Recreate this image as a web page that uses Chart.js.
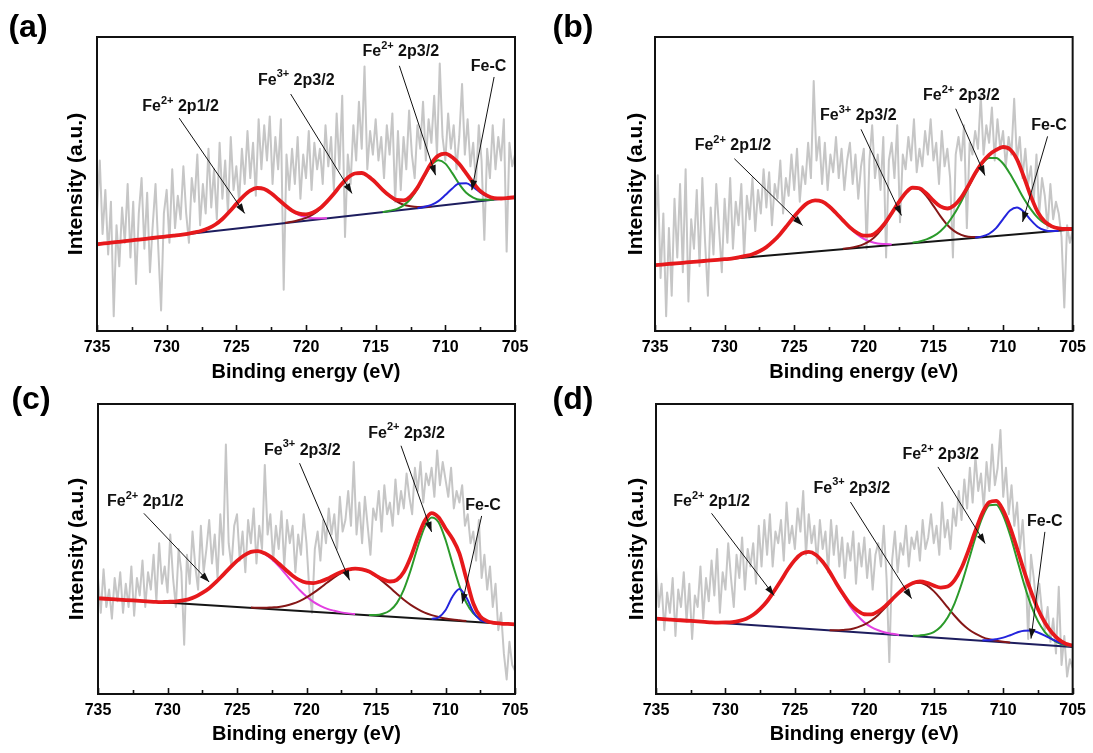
<!DOCTYPE html>
<html>
<head>
<meta charset="utf-8">
<title>Fe 2p XPS spectra</title>
<script src="https://cdn.jsdelivr.net/npm/chart.js@4.4.1/dist/chart.umd.min.js"></script>
<style>
  html, body { margin: 0; padding: 0; background: #fff; }
  body { width: 1093px; height: 753px; position: relative; overflow: hidden; }
  canvas { position: absolute; }
</style>
</head>
<body>
<canvas id="panelA" width="545" height="385" style="left:0px;top:0px"></canvas>
<canvas id="panelB" width="548" height="385" style="left:545px;top:0px"></canvas>
<canvas id="panelC" width="545" height="368" style="left:0px;top:385px"></canvas>
<canvas id="panelD" width="548" height="368" style="left:545px;top:385px"></canvas>
<script>
// ---- energy axis ----
const E_HIGH = 735, E_LOW = 705;
const RAW_STEP = 0.2;   // spacing of the measured spectrum (eV)
const FIT_STEP = 0.5;   // spacing of the fitted component samples (eV)
const xTicks = [735, 730, 725, 720, 715, 710, 705];

// ---- measured spectra, 735 -> 705 eV, intensity in % of frame height ----
const rawA = [
  40, 58, 33, 48, 26,  44, 5, 36, 22, 42,  30, 50, 25, 44, 16,  40, 52, 28, 47, 20,
  36, 50, 28, 7, 40,   48, 30, 55, 35, 46, 38, 56, 40, 30, 52,  44, 60, 36, 50, 40,
  62, 42, 55, 38, 64,  45, 58, 40, 66, 48, 56, 44, 62, 50, 68,  52, 64, 46, 72, 55,
  70, 58, 73, 50, 66,  55, 72, 14, 60, 48, 62, 50, 66, 45, 60,  52, 68, 48, 64, 55,
  62, 50, 70, 56, 66,  48, 74, 55, 80, 32, 60, 50, 70, 58, 78,  62, 90, 55, 68, 60,
  72, 58, 66, 52, 70,  60, 74, 44, 68, 48, 66, 55, 75, 60, 52,  70, 62, 78, 58, 72,
  64, 80, 60, 91, 66,  58, 74, 62, 70, 55, 66, 84, 60, 72, 56,  64, 50, 70, 58, 31,
  62, 52, 70, 55, 66,  58, 72, 27, 64, 56, 60
];
const rawB = [
  30, 53, 18, 40, 5,   35, 12, 45, 25, 50,  20, 55, 10, 38, 28,  48, 22, 52, 30, 12,
  42, 26, 50, 35, 20,  45, 30, 52, 28, 44,  36, 50, 25, 46, 38,  52, 34, 48, 40, 55,
  42, 54, 36, 50, 45,  58, 40, 52, 46, 60,  48, 62, 44, 56, 50,  64, 52, 85, 58, 66,
  50, 64, 48, 60, 54,  66, 52, 62, 48, 58,  64, 50, 60, 45, 56,  62, 28, 58, 70, 52,
  60, 48, 66, 25, 58,  64, 52, 70, 37, 60,  55, 66, 58, 72, 54,  62, 56, 68, 60, 72,
  58, 64, 50, 68, 56,  62, 52, 25, 60, 66,  58, 70, 35, 64, 60,  68, 62, 80, 60, 70,
  64, 76, 58, 72, 62,  68, 56, 66, 60, 79,  58, 66, 52, 62, 50,  56, 44, 60, 40, 52,
  46, 35, 50, 38, 44,  40, 32, 8, 36, 30, 34
];
const rawC = [
  40, 28, 43, 30, 36,  26, 40, 32, 42, 28,  38, 30, 44, 27, 40,  34, 46, 30, 42, 36,
  48, 32, 52, 38, 44,  35, 55, 40, 30, 50,  42, 17, 48, 38, 56,  44, 36, 58, 42, 50,
  60, 45, 55, 40, 62,  48, 86, 52, 44, 58,  62, 46, 56, 42, 60,  52, 64, 45, 58, 50,
  79, 55, 62, 46, 58,  50, 63, 44, 60, 52,  58, 42, 55, 48, 62,  52, 36, 28, 50, 56,
  46, 60, 52, 64, 55,  62, 50, 68, 56, 60,  70, 58, 80, 55, 66,  52, 68, 58, 48, 64,
  60, 70, 56, 72, 62,  66, 58, 74, 62, 70,  64, 76, 68, 62, 78,  70, 80, 66, 76, 72,
  78, 68, 84, 72, 80,  74, 68, 78, 64, 70,  66, 72, 58, 62, 52,  56, 46, 60, 40, 48,
  36, 44, 30, 38, 22,  28, 14, 5, 18, 10, 8
];
const rawD = [
  44, 30, 38, 22, 35,  28, 40, 20, 36, 30,  42, 25, 38, 19, 34,  30, 44, 26, 40, 32,
  46, 34, 50, 28, 42,  36, 52, 40, 30, 48,  40, 54, 36, 50, 44,  52, 38, 58, 44, 60,
  48, 62, 44, 56, 52,  60, 46, 66, 52, 58,  50, 64, 56, 70, 48,  62, 52, 58, 45, 60,
  50, 56, 42, 60, 48,  58, 44, 54, 40, 52,  46, 56, 38, 52, 44,  54, 40, 50, 36, 48,
  52, 44, 58, 40, 11,  46, 56, 42, 52, 48,  58, 44, 54, 50, 56,  46, 60, 50, 54, 62,
  52, 58, 48, 66, 54,  60, 50, 64, 58, 70,  60, 74, 64, 78, 66,  82, 70, 76, 64, 80,
  70, 86, 72, 78, 91,  68, 78, 62, 72, 58,  66, 50, 60, 44, 19,  48, 40, 30, 38, 28,
  22, 30, 18, 26, 14,  37, 10, 20, 6, 12, 9
];

// ---- linear backgrounds: value at 735 eV, value at 705 eV ----
const baseA = [29.5, 45.5];
const baseB = [22.4, 34.5];
const baseC = [33.0, 24.0];
const baseD = [26.0, 16.2];

// ---- fitted components (height above background), sampled every 0.5 eV from the start energy downward ----
// order in each start list: Fe2+ 2p1/2, Fe3+ 2p3/2, Fe2+ 2p3/2, Fe-C
const startA = [728.5, 721.5, 714.5, 712.0];
const fe2p12A = [0.1, 0.3, 0.6, 1.2, 2.2, 3.8, 6.0, 8.4, 10.7, 12.4, 13.0, 12.4, 10.7, 8.4, 6.0, 3.8, 2.2, 1.2, 0.6, 0.3, 0.1];
const fe3p32A = [0.1, 0.2, 0.5, 1.0, 1.9, 3.4, 5.6, 8.1, 10.8, 13.0, 14.2, 14.1, 12.6, 10.3, 7.6, 5.1, 3.1, 1.7, 0.9, 0.4, 0.2, 0.1];
const fe2p32A = [0.0, 0.2, 0.5, 1.5, 3.4, 6.6, 10.6, 14.1, 15.5, 14.1, 10.6, 6.6, 3.4, 1.5, 0.5, 0.2, 0.0];
const feCA    = [0.0, 0.2, 0.6, 1.6, 3.4, 5.4, 6.8, 6.6, 5.0, 3.0, 1.4, 0.5, 0.1, 0.0];

const startB = [729.0, 721.5, 716.5, 712.0];
const fe2p12B = [0.2, 0.5, 0.9, 1.7, 2.9, 4.7, 7.0, 9.7, 12.5, 15.0, 16.8, 17.4, 16.8, 15.0, 12.5, 9.7, 7.0, 4.7, 2.9, 1.7, 0.9, 0.5, 0.2];
const fe3p32B = [0.1, 0.2, 0.5, 1.1, 2.2, 4.2, 7.0, 10.6, 14.3, 17.3, 18.7, 18.1, 15.6, 12.1, 8.4, 5.2, 2.9, 1.4, 0.6, 0.3, 0.1];
const fe2p32B = [0.2, 0.4, 0.9, 1.8, 3.3, 5.6, 8.8, 12.8, 17.3, 21.6, 25.0, 26.8, 26.6, 24.5, 20.8, 16.4, 11.9, 8.1, 5.0, 2.9, 1.6, 0.8, 0.4, 0.2];
const feCB    = [0.1, 0.3, 1.0, 2.7, 5.6, 8.3, 9.1, 7.4, 4.4, 1.9, 0.6, 0.1, 0.0];

const startC = [730.0, 724.0, 715.5, 711.0];
const fe2p12C = [0.3, 0.5, 1.0, 1.6, 2.6, 4.1, 5.9, 8.2, 10.8, 13.4, 15.9, 17.9, 19.2, 19.5, 18.8, 17.2, 15.0, 12.4, 9.7, 7.2, 5.1, 3.4, 2.2, 1.3, 0.8, 0.4, 0.2, 0.1];
const fe3p32C = [0.1, 0.2, 0.3, 0.6, 0.9, 1.5, 2.3, 3.4, 4.8, 6.5, 8.4, 10.4, 12.3, 13.9, 15.1, 15.7, 15.7, 15.0, 13.6, 11.9, 10.0, 8.0, 6.1, 4.5, 3.2, 2.1, 1.4, 0.9, 0.5, 0.3, 0.2, 0.1];
const fe2p32C = [0.1, 0.2, 0.8, 2.1, 4.8, 9.6, 16.5, 24.6, 31.6, 35.1, 33.6, 27.7, 19.7, 12.1, 6.4, 2.9, 1.2, 0.4, 0.1];
const feCC    = [0.1, 0.8, 3.4, 8.2, 11.0, 8.2, 3.4, 0.8, 0.1];

const startD = [730.5, 722.5, 716.5, 711.5];
const fe2p12D = [0.1, 0.3, 0.6, 1.2, 2.1, 3.6, 5.8, 8.6, 12.2, 16.1, 20.1, 23.5, 25.8, 26.6, 25.8, 23.5, 20.1, 16.1, 12.2, 8.6, 5.8, 3.6, 2.1, 1.2, 0.6, 0.3, 0.1];
const fe3p32D = [0.1, 0.2, 0.5, 0.9, 1.7, 2.8, 4.4, 6.5, 9.1, 11.9, 14.6, 16.8, 18.2, 18.6, 17.8, 16.0, 13.5, 10.7, 8.0, 5.6, 3.7, 2.3, 1.3, 0.7, 0.4, 0.2, 0.1];
const fe2p32D = [0.1, 0.4, 0.9, 1.9, 3.9, 7.2, 12.3, 19.1, 27.2, 35.5, 42.6, 46.9, 47.3, 43.7, 37.1, 28.9, 20.6, 13.5, 8.1, 4.5, 2.3, 1.0, 0.4, 0.2];
const feCD    = [0.2, 0.4, 0.9, 1.6, 2.6, 3.7, 4.5, 4.7, 4.2, 3.3, 2.2, 1.3, 0.6, 0.3];

// ---- peak labels ----
const LABEL_FE2_2P12 = ['Fe', '2+', ' 2p1/2'];
const LABEL_FE3_2P32 = ['Fe', '3+', ' 2p3/2'];
const LABEL_FE2_2P32 = ['Fe', '2+', ' 2p3/2'];
const LABEL_FEC = ['Fe-C'];

// ---- styling ----
const FONT = '"Liberation Sans", Arial, Helvetica, sans-serif';
const COLORS = {
  raw: '#c6c6c6',
  envelope: '#e6191c',
  fe2p12: '#e23fe0',
  fe3p32: '#861717',
  fe2p32: '#2b9a2b',
  feC: '#2424dc'
};

// Annotation placement in data coordinates [energy, intensity]
const PANELS = [
  {
    id: 'panelA', tag: '(a)', tagAt: [28, 28],
    raw: rawA, base: baseA, starts: startA, comps: [fe2p12A, fe3p32A, fe2p32A, feCA],
    baseColor: '#1d1d5e',
    box: { left: 97, top: 37, right: 30, bottom: 54 }, yTitlePad: 64, xTitlePad: 1,
    notes: [
      { text: LABEL_FE2_2P12, at: [729.0, 76.2], from: [729.1, 72.4], to: [724.4, 40.0] },
      { text: LABEL_FE3_2P32, at: [720.7, 85.3], from: [721.1, 80.6], to: [716.7, 46.8] },
      { text: LABEL_FE2_2P32, at: [713.2, 94.9], from: [713.3, 90.2], to: [710.7, 53.0] },
      { text: LABEL_FEC,      at: [706.9, 89.8], from: [706.5, 86.4], to: [708.1, 47.9] }
    ]
  },
  {
    id: 'panelB', tag: '(b)', tagAt: [28, 28],
    raw: rawB, base: baseB, starts: startB, comps: [fe2p12B, fe3p32B, fe2p32B, feCB],
    baseColor: '#151515',
    box: { left: 110, top: 37, right: 18, bottom: 54 }, yTitlePad: 79, xTitlePad: 1,
    notes: [
      { text: LABEL_FE2_2P12, at: [729.4, 63.1], from: [729.3, 58.6], to: [724.4, 35.9] },
      { text: LABEL_FE3_2P32, at: [720.4, 73.2], from: [720.2, 68.6], to: [717.3, 39.3] },
      { text: LABEL_FE2_2P32, at: [713.0, 80.0], from: [713.4, 75.6], to: [711.3, 52.9] },
      { text: LABEL_FEC,      at: [706.7, 69.8], from: [706.8, 66.2], to: [708.6, 37.1] }
    ]
  },
  {
    id: 'panelC', tag: '(c)', tagAt: [31, 15],
    raw: rawC, base: baseC, starts: startC, comps: [fe2p12C, fe3p32C, fe2p32C, feCC],
    baseColor: '#151515',
    box: { left: 98, top: 19, right: 30, bottom: 59 }, yTitlePad: 65, xTitlePad: 6.5,
    notes: [
      { text: LABEL_FE2_2P12, at: [731.6, 66.3], from: [731.7, 62.3], to: [727.0, 38.6] },
      { text: LABEL_FE3_2P32, at: [720.3, 84.1], from: [720.5, 79.6], to: [716.9, 39.2] },
      { text: LABEL_FE2_2P32, at: [712.8, 89.9], from: [713.2, 85.6], to: [711.0, 55.9] },
      { text: LABEL_FEC,      at: [707.3, 65.1], from: [707.4, 61.4], to: [708.8, 31.2] }
    ]
  },
  {
    id: 'panelD', tag: '(d)', tagAt: [28, 15],
    raw: rawD, base: baseD, starts: startD, comps: [fe2p12D, fe3p32D, fe2p32D, feCD],
    baseColor: '#1d1d5e',
    box: { left: 111, top: 19, right: 18, bottom: 59 }, yTitlePad: 80, xTitlePad: 6.5,
    notes: [
      { text: LABEL_FE2_2P12, at: [731.0, 66.3], from: [731.0, 62.3], to: [726.5, 34.0] },
      { text: LABEL_FE3_2P32, at: [720.9, 70.9], from: [721.0, 66.2], to: [716.6, 32.9] },
      { text: LABEL_FE2_2P32, at: [714.5, 82.4], from: [714.7, 78.3], to: [711.3, 51.9] },
      { text: LABEL_FEC,      at: [707.0, 59.3], from: [707.0, 55.9], to: [708.0, 19.1] }
    ]
  }
];

// ---- helpers ----
function backgroundAt(base, e) {
  return base[0] + (base[1] - base[0]) * (E_HIGH - e) / (E_HIGH - E_LOW);
}
function rawPoints(values) {
  return values.map((v, i) => ({ x: +(E_HIGH - RAW_STEP * i).toFixed(1), y: v }));
}
function componentPoints(values, start, base) {
  return values.map((v, j) => {
    const e = start - FIT_STEP * j;
    return { x: e, y: backgroundAt(base, e) + v };
  });
}
function envelopePoints(comps, starts, base) {
  const pts = [];
  const n = Math.round((E_HIGH - E_LOW) / FIT_STEP);
  for (let i = 0; i <= n; i++) {
    const e = E_HIGH - FIT_STEP * i;
    let sum = backgroundAt(base, e);
    comps.forEach((vals, k) => {
      const j = Math.round((starts[k] - e) / FIT_STEP);
      if (j >= 0 && j < vals.length) sum += vals[j];
    });
    pts.push({ x: e, y: sum });
  }
  return pts;
}

function drawArrow(ctx, x1, y1, x2, y2) {
  ctx.beginPath();
  ctx.moveTo(x1, y1);
  ctx.lineTo(x2, y2);
  ctx.stroke();
  const ang = Math.atan2(y2 - y1, x2 - x1);
  const L = 10, W = 3.4;
  const bx = x2 - L * Math.cos(ang), by = y2 - L * Math.sin(ang);
  ctx.beginPath();
  ctx.moveTo(x2, y2);
  ctx.lineTo(bx + W * Math.sin(ang), by - W * Math.cos(ang));
  ctx.lineTo(bx - W * Math.sin(ang), by + W * Math.cos(ang));
  ctx.closePath();
  ctx.fill();
}

function drawLabel(ctx, parts, cx, cy) {
  const mainFont = 'bold 16px ' + FONT;
  const supFont = 'bold 11px ' + FONT;
  let total = 0;
  const widths = parts.map((p, i) => {
    ctx.font = (i % 2 === 1) ? supFont : mainFont;
    const w = ctx.measureText(p).width;
    total += w;
    return w;
  });
  let x = cx - total / 2;
  ctx.textAlign = 'left';
  ctx.textBaseline = 'middle';
  parts.forEach((p, i) => {
    const sup = (i % 2 === 1);
    ctx.font = sup ? supFont : mainFont;
    ctx.fillText(p, x, sup ? cy - 6 : cy);
    x += widths[i];
  });
}

function makeDecor(panel) {
  return {
    id: 'xpsDecor_' + panel.id,
    afterDatasetsDraw(chart) {
      const { ctx, chartArea: a, scales } = chart;
      const xs = scales.x, ys = scales.y;
      ctx.save();
      // frame
      ctx.strokeStyle = '#111';
      ctx.lineWidth = 2;
      ctx.strokeRect(a.left, a.top, a.right - a.left, a.bottom - a.top);
      // inward tick marks on the energy axis
      ctx.lineWidth = 1.6;
      for (let e = E_LOW; e <= E_HIGH; e += 2.5) {
        const px = Math.round(xs.getPixelForValue(e)) + 0.5;
        const len = (e % 5 === 0) ? 6 : 4;
        ctx.beginPath();
        ctx.moveTo(px, a.bottom);
        ctx.lineTo(px, a.bottom - len);
        ctx.stroke();
      }
      // peak assignments with arrows
      ctx.fillStyle = '#111';
      ctx.strokeStyle = '#111';
      ctx.lineWidth = 1;
      panel.notes.forEach(n => {
        drawArrow(ctx,
          xs.getPixelForValue(n.from[0]), ys.getPixelForValue(n.from[1]),
          xs.getPixelForValue(n.to[0]), ys.getPixelForValue(n.to[1]));
        drawLabel(ctx, n.text, xs.getPixelForValue(n.at[0]), ys.getPixelForValue(n.at[1]));
      });
      // panel letter
      ctx.font = 'bold 32px ' + FONT;
      ctx.textAlign = 'center';
      ctx.textBaseline = 'middle';
      ctx.fillStyle = '#000';
      ctx.fillText(panel.tag, panel.tagAt[0], panel.tagAt[1]);
      ctx.restore();
    }
  };
}

function buildChart(panel) {
  const [c1, c2, c3, c4] = panel.comps;
  const [s1, s2, s3, s4] = panel.starts;
  const fitLine = (data, color, width) => ({
    data, borderColor: color, borderWidth: width, pointRadius: 0,
    cubicInterpolationMode: 'monotone', fill: false
  });
  // first dataset is drawn on top
  const datasets = [
    fitLine(envelopePoints(panel.comps, panel.starts, panel.base), COLORS.envelope, 3.8),
    fitLine(componentPoints(c4, s4, panel.base), COLORS.feC, 2),
    fitLine(componentPoints(c3, s3, panel.base), COLORS.fe2p32, 2),
    fitLine(componentPoints(c2, s2, panel.base), COLORS.fe3p32, 2),
    fitLine(componentPoints(c1, s1, panel.base), COLORS.fe2p12, 2),
    { data: [{ x: E_HIGH, y: panel.base[0] }, { x: E_LOW, y: panel.base[1] }],
      borderColor: panel.baseColor, borderWidth: 2, pointRadius: 0, tension: 0 },
    { data: rawPoints(panel.raw), borderColor: COLORS.raw, borderWidth: 2,
      pointRadius: 0, tension: 0, borderJoinStyle: 'round' }
  ];

  new Chart(document.getElementById(panel.id), {
    type: 'line',
    data: { datasets },
    options: {
      responsive: false,
      animation: false,
      devicePixelRatio: 1,
      layout: { padding: { left: 0, top: panel.box.top, right: panel.box.right, bottom: 0 } },
      plugins: {
        legend: { display: false },
        tooltip: { enabled: false },
        title: { display: false }
      },
      scales: {
        x: {
          type: 'linear',
          position: 'bottom',
          reverse: true,
          min: E_LOW,
          max: E_HIGH,
          afterBuildTicks: s => { s.ticks = xTicks.map(v => ({ value: v })); },
          ticks: {
            autoSkip: false, maxRotation: 0, padding: 7, color: '#000',
            font: { family: FONT, size: 16, weight: 'bold' },
            callback: v => String(v)
          },
          grid: { display: false, drawTicks: false },
          border: { display: false },
          title: {
            display: true, text: 'Binding energy (eV)', color: '#000',
            font: { family: FONT, size: 20, weight: 'bold' },
            padding: { top: 0, bottom: panel.xTitlePad }
          },
          afterFit: s => { s.height = panel.box.bottom; }
        },
        y: {
          type: 'linear',
          position: 'left',
          min: 0,
          max: 100,
          ticks: { display: false },
          grid: { display: false, drawTicks: false },
          border: { display: false },
          title: {
            display: true, text: 'Intensity (a.u.)', color: '#000',
            font: { family: FONT, size: 21, weight: 'bold' },
            padding: { top: panel.yTitlePad, bottom: 0 }
          },
          afterFit: s => { s.width = panel.box.left; }
        }
      }
    },
    plugins: [makeDecor(panel)]
  });
}

PANELS.forEach(buildChart);
</script>
</body>
</html>
